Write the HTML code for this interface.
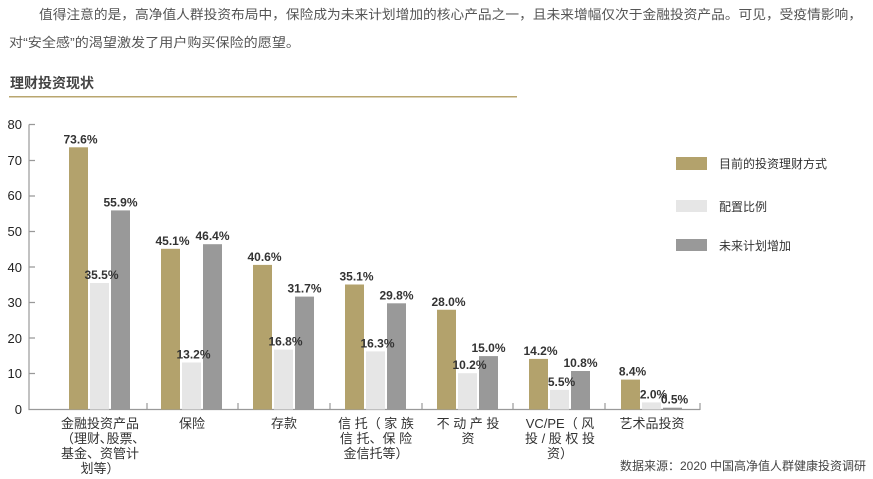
<!DOCTYPE html>
<html><head><meta charset="utf-8"><style>
body{margin:0;background:#fff;width:873px;height:479px;overflow:hidden}
svg{display:block}
text{font-family:"Liberation Sans","Noto Sans CJK SC",sans-serif}
</style></head><body>
<svg width="873" height="479" viewBox="0 0 873 479" xmlns="http://www.w3.org/2000/svg">
<text x="39" y="19" font-size="13" fill="#555" textLength="823" lengthAdjust="spacingAndGlyphs">值得注意的是，高净值人群投资布局中，保险成为未来计划增加的核心产品之一，且未来增幅仅次于金融投资产品。可见，受疫情影响，</text>
<text x="9" y="47" font-size="13" fill="#555" textLength="291" lengthAdjust="spacingAndGlyphs">对“安全感”的渴望激发了用户购买保险的愿望。</text>
<text x="10" y="88" font-size="14" font-weight="bold" fill="#444">理财投资现状</text>
<rect x="9" y="96" width="508" height="1.5" fill="#b9a66f"/>
<g font-size="13" fill="#222" text-anchor="end">
<text x="22" y="129">80</text><text x="22" y="165">70</text><text x="22" y="200">60</text><text x="22" y="236">50</text><text x="22" y="272">40</text><text x="22" y="307">30</text><text x="22" y="343">20</text><text x="22" y="378">10</text><text x="22" y="414">0</text>
</g>
<g stroke="#999" stroke-width="1.2" fill="none">
<path d="M29 124.5V409.5H700"/>
<path d="M29 124.5h6M29 160.5h6M29 196h6M29 231.5h6M29 267h6M29 302.5h6M29 338h6M29 373.5h6"/>
<path d="M147 403v7M238 403v7M330 403v7M422 403v7M513 403v7M605 403v7M700 403v7"/>
</g>
<g>
<rect x="69" y="147.3" width="19" height="262.2" fill="#b3a26c"/>
<rect x="90" y="283" width="19" height="126.5" fill="#e6e6e6"/>
<rect x="111" y="210.4" width="19" height="199.1" fill="#999"/>
<rect x="161" y="248.8" width="19" height="160.7" fill="#b3a26c"/>
<rect x="182" y="362.5" width="19" height="47" fill="#e6e6e6"/>
<rect x="203" y="244.2" width="19" height="165.3" fill="#999"/>
<rect x="253" y="264.9" width="19" height="144.6" fill="#b3a26c"/>
<rect x="274" y="349.6" width="19" height="59.9" fill="#e6e6e6"/>
<rect x="295" y="296.6" width="19" height="112.9" fill="#999"/>
<rect x="345" y="284.5" width="19" height="125" fill="#b3a26c"/>
<rect x="366" y="351.4" width="19" height="58.1" fill="#e6e6e6"/>
<rect x="387" y="303.3" width="19" height="106.2" fill="#999"/>
<rect x="437" y="309.75" width="19" height="99.75" fill="#b3a26c"/>
<rect x="458" y="373.2" width="19" height="36.3" fill="#e6e6e6"/>
<rect x="479" y="356.1" width="19" height="53.4" fill="#999"/>
<rect x="529" y="358.9" width="19" height="50.6" fill="#b3a26c"/>
<rect x="550" y="389.9" width="19" height="19.6" fill="#e6e6e6"/>
<rect x="571" y="371" width="19" height="38.5" fill="#999"/>
<rect x="621" y="379.6" width="19" height="29.9" fill="#b3a26c"/>
<rect x="642" y="402.4" width="19" height="7.1" fill="#e6e6e6"/>
<rect x="663" y="407.7" width="19" height="1.8" fill="#999"/>
</g>
<g font-size="12" font-weight="bold" fill="#333" text-anchor="middle">
<text x="80.5" y="143.3">73.6%</text><text x="101.5" y="279">35.5%</text><text x="120.5" y="206.4">55.9%</text>
<text x="172.5" y="244.8">45.1%</text><text x="193.5" y="358.5">13.2%</text><text x="212.5" y="240.2">46.4%</text>
<text x="264.5" y="260.9">40.6%</text><text x="285.5" y="345.6">16.8%</text><text x="304.5" y="292.6">31.7%</text>
<text x="356.5" y="280.5">35.1%</text><text x="377.5" y="347.4">16.3%</text><text x="396.5" y="299.3">29.8%</text>
<text x="448.5" y="305.75">28.0%</text><text x="469.5" y="369.2">10.2%</text><text x="488.5" y="352.1">15.0%</text>
<text x="540.5" y="354.9">14.2%</text><text x="561.5" y="385.9">5.5%</text><text x="580.5" y="367">10.8%</text>
<text x="632.5" y="375.6">8.4%</text><text x="653.5" y="398.4">2.0%</text><text x="674.5" y="403.7">0.5%</text>
</g>
<g font-size="12" fill="#333">
<rect x="676" y="157" width="31" height="13" fill="#b3a26c"/><text x="719" y="168">目前的投资理财方式</text>
<rect x="676" y="200" width="31" height="12" fill="#e6e6e6"/><text x="719" y="211">配置比例</text>
<rect x="676" y="239" width="31" height="12" fill="#999"/><text x="719" y="250">未来计划增加</text>
</g>
<g font-size="13" fill="#333" text-anchor="middle">
<text x="100" y="428">金融投资产品</text><text x="100" y="443">（理财､股票､</text><text x="100" y="458">基金、资管计</text><text x="100" y="473">划等）</text>
<text x="192" y="428">保险</text>
<text x="284" y="428">存款</text>
<text x="376" y="428">信 托（ 家 族</text><text x="376" y="443">信 托、保 险</text><text x="376" y="458">金信托等）</text>
<text x="468" y="428">不 动 产 投</text><text x="468" y="443">资</text>
<text x="560" y="428">VC/PE（ 风</text><text x="560" y="443">投 / 股 权 投</text><text x="560" y="458">资）</text>
<text x="652" y="428">艺术品投资</text>
</g>
<text x="866" y="470" font-size="12" fill="#444" text-anchor="end">数据来源：2020 中国高净值人群健康投资调研</text>
</svg>
</body></html>
